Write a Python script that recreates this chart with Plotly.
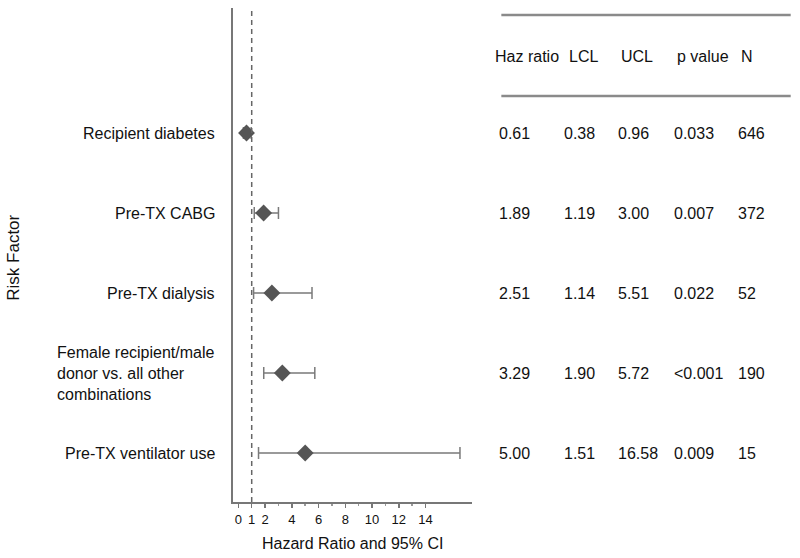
import plotly.graph_objects as go

risk_factors = [
    "Recipient diabetes",
    "Pre-TX CABG",
    "Pre-TX dialysis",
    "Female recipient/male<br>donor vs. all other<br>combinations",
    "Pre-TX ventilator use",
]
haz_ratio = [0.61, 1.89, 2.51, 3.29, 5.00]
lcl = [0.38, 1.19, 1.14, 1.90, 1.51]
ucl = [0.96, 3.00, 5.51, 5.72, 16.58]
haz_text = ["0.61", "1.89", "2.51", "3.29", "5.00"]
lcl_text = ["0.38", "1.19", "1.14", "1.90", "1.51"]
ucl_text = ["0.96", "3.00", "5.51", "5.72", "16.58"]
p_values = ["0.033", "0.007", "0.022", "<0.001", "0.009"]
n_values = ["646", "372", "52", "190", "15"]
headers = ["Haz ratio", "LCL", "UCL", "p value", "N"]
x_ticks = [0, 1, 2, 4, 6, 8, 10, 12, 14]

row_pos = [5, 4, 3, 2, 1]
FONT = "Liberation Sans, Arial, sans-serif"
TXT = "#111111"

fig = go.Figure()
fig.add_trace(go.Scatter(
    x=haz_ratio, y=row_pos, mode="markers",
    marker=dict(symbol="diamond", size=13, color="#555555"),
    error_x=dict(type="data", symmetric=False,
                 array=[u - h for u, h in zip(ucl, haz_ratio)],
                 arrayminus=[h - l for h, l in zip(haz_ratio, lcl)],
                 color="#7a7a7a", thickness=1.5, width=6),
    showlegend=False, hoverinfo="skip",
))

# reference line at HR = 1
fig.add_shape(type="line", xref="x", yref="paper", x0=1, x1=1, y0=0, y1=1,
              line=dict(color="#666666", width=1.5, dash="5px,4px"))

# plot area in page pixels (body margin removed by post_script)
OFF = 0
PLOT_L, PLOT_R, PLOT_T, PLOT_B = 233, 471.7, 8, 502
PLOT_W = PLOT_R - PLOT_L
PLOT_H = PLOT_B - PLOT_T
def px_to_paper(px):
    return (px - PLOT_L) / PLOT_W
def py_to_paper(py):
    return (PLOT_B - py) / PLOT_H

annotations = []
for lab, y in zip(risk_factors, row_pos):
    annotations.append(dict(text=lab, xref="paper", yref="y", x=px_to_paper(217), y=y,
                            xanchor="right", yanchor="middle", align="left", showarrow=False,
                            font=dict(family=FONT, size=16, color=TXT)))

col_px = [497, 562, 616, 671, 735]
head_px = [493, 567, 619, 674, 738]
for h, px in zip(headers, head_px):
    annotations.append(dict(text=h, xref="paper", yref="paper", x=px_to_paper(px), y=py_to_paper(56),
                            xanchor="left", yanchor="middle", showarrow=False,
                            font=dict(family=FONT, size=16, color=TXT)))
for i, y in enumerate(row_pos):
    vals = [haz_text[i], lcl_text[i], ucl_text[i], p_values[i], n_values[i]]
    for v, px in zip(vals, col_px):
        annotations.append(dict(text=v, xref="paper", yref="y", x=px_to_paper(px), y=y,
                                xanchor="left", yanchor="middle", showarrow=False,
                                font=dict(family=FONT, size=16, color=TXT)))

annotations.append(dict(text="Risk Factor", xref="paper", yref="paper", x=px_to_paper(13), y=py_to_paper(258),
                        textangle=-90, xanchor="center", yanchor="middle", showarrow=False,
                        font=dict(family=FONT, size=17, color=TXT)))
annotations.append(dict(text="Hazard Ratio and 95% CI", xref="paper", yref="paper", x=0.5, y=py_to_paper(543),
                        xanchor="center", yanchor="middle", showarrow=False,
                        font=dict(family=FONT, size=16, color=TXT)))

for py in [15, 96]:
    fig.add_shape(type="line", xref="paper", yref="paper", x0=px_to_paper(501), x1=px_to_paper(790),
                  y0=py_to_paper(py), y1=py_to_paper(py), line=dict(color="#8a8a8a", width=2.5))

W, H = 800, 558
fig.update_layout(
    width=W, height=H,
    margin=dict(l=PLOT_L - OFF, r=W - (PLOT_R - OFF), t=PLOT_T - OFF, b=H - (PLOT_B - OFF)),
    paper_bgcolor="white", plot_bgcolor="white",
    annotations=annotations,
    hovermode=False,
    xaxis=dict(range=[-0.4, 17.48], tickvals=x_ticks, ticktext=[str(t) for t in x_ticks],
               showgrid=False, zeroline=False, showline=True, linecolor="#777777", linewidth=2,
               ticks="outside", ticklen=4, tickcolor="#777777", tickwidth=1.5,
               minor=dict(tickvals=[3, 5, 7, 9, 11, 13], ticks="outside", ticklen=2, tickcolor="#999999"),
               tickfont=dict(family=FONT, size=13, color=TXT)),
    yaxis=dict(range=[0.3875, 6.5625], showgrid=False, zeroline=False, showticklabels=False,
               showline=True, linecolor="#777777", linewidth=2, ticks=""),
)

fig.write_html("out.html", config={"displayModeBar": False, "staticPlot": True},
               post_script="document.body.style.margin='0';document.body.style.overflow='hidden';")
